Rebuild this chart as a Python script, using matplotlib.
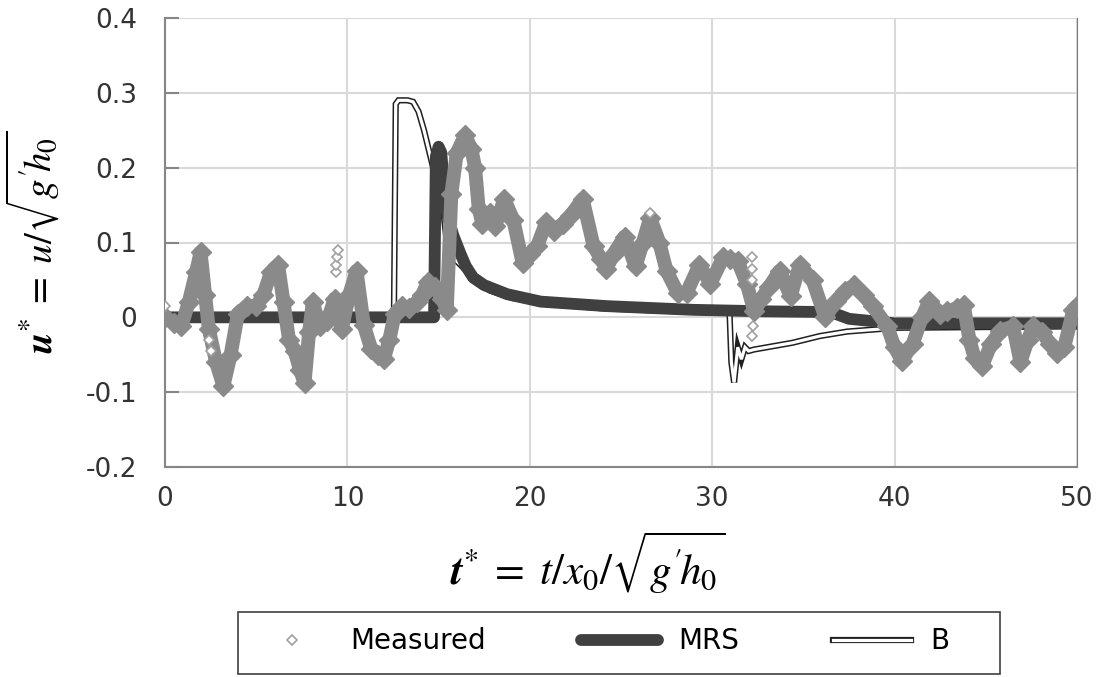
import matplotlib.pyplot as plt
from matplotlib.lines import Line2D
from matplotlib.patches import Rectangle
import numpy as np

plt.rcParams['mathtext.fontset'] = 'stix'

# measured u*
t_meas = [0.0, 0.5, 0.9, 1.3, 1.7, 1.95, 2.2, 2.4, 2.8, 3.2, 3.6, 4.0, 4.5, 5.0, 5.4, 5.8,
          6.2, 6.5, 6.8, 7.1, 7.4, 7.65, 7.9, 8.1, 8.5, 8.9, 9.3, 9.7, 10.1, 10.5, 10.9,
          11.3, 11.7, 12.0, 12.3, 12.6, 13.0, 13.4, 13.8, 14.1, 14.4, 14.8, 15.2, 15.45,
          15.7, 16.0, 16.45, 16.8, 17.0, 17.2, 17.4, 17.8, 18.1, 18.6, 19.1, 19.6, 20.0,
          20.4, 20.9, 21.3, 21.8, 22.2, 22.9, 23.5, 23.9, 24.2, 24.6, 25.2, 25.8, 26.2,
          26.6, 27.1, 27.5, 28.1, 28.6, 29.3, 29.9, 30.6, 31.0, 31.4, 31.9, 32.3, 32.7,
          33.1, 33.7, 34.3, 34.8, 35.5, 36.2, 36.8, 37.3, 37.8, 38.3, 38.8, 39.6, 40.0,
          40.4, 41.0, 41.5, 41.9, 42.5, 42.9, 43.4, 43.8, 44.1, 44.4, 44.8, 45.3, 45.8,
          46.5, 46.9, 47.3, 47.6, 48.1, 48.5, 48.9, 49.3, 49.8, 50.0]
u_meas = [0.0, -0.008, -0.012, 0.02, 0.06, 0.087, 0.03, -0.015, -0.06, -0.092, -0.05, 0.005,
          0.015, 0.015, 0.03, 0.06, 0.07, 0.02, -0.03, -0.045, -0.07, -0.088, -0.02, 0.02,
          -0.012, -0.005, 0.025, -0.015, 0.03, 0.062, -0.01, -0.042, -0.05, -0.056, -0.03,
          0.005, 0.015, 0.012, 0.02, 0.03, 0.047, 0.04, 0.025, 0.01, 0.165, 0.22, 0.243,
          0.225, 0.2, 0.145, 0.125, 0.14, 0.122, 0.158, 0.13, 0.073, 0.085, 0.095, 0.127,
          0.115, 0.125, 0.135, 0.158, 0.095, 0.078, 0.065, 0.085, 0.108, 0.068, 0.1, 0.133,
          0.1, 0.062, 0.033, 0.033, 0.07, 0.045, 0.08, 0.078, 0.075, 0.045, 0.008, 0.025,
          0.04, 0.062, 0.028, 0.07, 0.05, 0.0, 0.022, 0.035, 0.043, 0.03, 0.015, -0.012,
          -0.04, -0.058, -0.035, 0.0, 0.022, 0.004, 0.008, 0.012, 0.016, -0.03, -0.055,
          -0.065, -0.035, -0.018, -0.012, -0.06, -0.03, -0.012, -0.02, -0.035, -0.047,
          -0.04, 0.01, 0.015]

# isolated measured points standing off the band
t_out = [0.0, 2.4, 2.5, 9.4, 9.4, 9.45, 9.5, 26.6, 32.2, 32.2, 32.2, 32.25, 32.2]
u_out = [0.015, -0.03, -0.045, 0.06, 0.07, 0.08, 0.09, 0.14, 0.08, 0.065, 0.05, -0.012, -0.025]

# MRS model
t_mrs = [0, 14.75, 14.85, 15.0, 15.15, 15.3, 15.5, 15.8, 16.2, 16.5, 16.9, 17.5, 18.75,
         20.6, 24.2, 29, 33, 36.5, 37.5, 40, 50]
u_mrs = [0, 0, 0.215, 0.228, 0.22, 0.17, 0.135, 0.11, 0.085, 0.068, 0.053, 0.043, 0.031,
         0.021, 0.015, 0.01, 0.008, 0.007, -0.002, -0.008, -0.008]

# B model
t_b = [0, 12.55, 12.65, 12.8, 13.3, 13.6, 13.9, 14.2, 14.6, 15.0, 15.25, 15.45, 15.7, 16.0,
       16.9, 17.8, 19, 21, 24, 27, 30, 30.95, 31.05, 31.2, 31.4, 31.6, 31.8, 32.0, 32.3,
       33.0, 34.4, 35.9, 37.4, 39.0, 40, 50]
u_b = [0, 0, 0.285, 0.29, 0.29, 0.288, 0.275, 0.25, 0.21, 0.17, 0.144, 0.1, 0.085, 0.075,
       0.053, 0.036, 0.026, 0.018, 0.012, 0.009, 0.007, 0.006, -0.06, -0.087, -0.04, -0.056,
       -0.04, -0.045, -0.043, -0.04, -0.034, -0.025, -0.019, -0.016, -0.014, -0.012]

xticks = [0, 10, 20, 30, 40, 50]
yticks = [-0.2, -0.1, 0, 0.1, 0.2, 0.3, 0.4]
ytick_labels = ['-0.2', '-0.1', '0', '0.1', '0.2', '0.3', '0.4']

fig = plt.figure(figsize=(10.99, 6.77), dpi=100)
ax = fig.add_axes([165/1099, 1-467/677, 912/1099, 449/677])

gray = '#8a8a8a'
dark = '#404040'

# B: double line
ax.plot(t_b, u_b, color='#202020', lw=4.5, zorder=2, solid_joinstyle='miter')
ax.plot(t_b, u_b, color='white', lw=2.3, zorder=2.1, solid_joinstyle='miter')
# MRS
ax.plot(t_mrs, u_mrs, color=dark, lw=8.5, zorder=3)
# Measured
ax.plot(t_meas, u_meas, color=gray, lw=10, marker='D', ms=10, mfc=gray, mec=gray, zorder=4)
ax.plot(t_out, u_out, ls='none', marker='D', ms=5.5, mfc='white', mec='#a0a0a0', mew=1.2, zorder=4)

ax.set_xlim(0, 50)
ax.set_ylim(-0.2, 0.4)
ax.set_xticks(xticks)
ax.set_yticks(yticks)
ax.set_yticklabels(ytick_labels)
ax.grid(True, color='#d9d9d9', lw=1.5)
ax.set_axisbelow(True)
ax.spines['top'].set_visible(False)
ax.spines['right'].set_color('#7a7a7a')
ax.spines['left'].set_color('#868686')
ax.spines['bottom'].set_color('#868686')
ax.spines['left'].set_linewidth(1.5)
ax.spines['bottom'].set_linewidth(1.5)
ax.tick_params(axis='y', direction='in', length=10, width=1.5, color='#868686', pad=20,
               labelsize=19, labelcolor='#333333')
ax.tick_params(axis='x', direction='in', length=0, pad=14, labelsize=19, labelcolor='#333333')

ax.set_xlabel(r"$\mathbfit{t}^{*}\;=\;t/x_0/\sqrt{g^{\prime}\!h_0}$", fontsize=31)
ax.xaxis.set_label_coords(0.463, -0.14)
ax.set_ylabel(r"$\mathbfit{u}^{*}\;=\;u/\sqrt{g^{\prime}\!h_0}$", fontsize=28)
ax.yaxis.set_label_coords(-0.113, 0.5)

h_meas = Line2D([], [], ls='none', marker='D', ms=5.5, mfc='white', mec='#a0a0a0', mew=1.2)
h_mrs = Line2D([], [], color=dark, lw=8.5, solid_capstyle='round')
h_b = (Line2D([], [], color='#202020', lw=4.5), Line2D([], [], color='white', lw=2.3))
leg = fig.legend([h_meas, h_mrs, h_b], ['Measured', 'MRS', 'B'], loc='upper left', ncol=3,
                 bbox_to_anchor=(238/1099, 1-612/677), borderaxespad=0, fontsize=20,
                 handlelength=2.8, handletextpad=0.7, columnspacing=3.4, borderpad=0.55,
                 frameon=False)
fig.patches.append(Rectangle((238/1099, 1-674/677), 762/1099, 62/677,
                             transform=fig.transFigure, fill=False, edgecolor='#404040', lw=1.2))

fig.savefig('out.png', dpi=100)
